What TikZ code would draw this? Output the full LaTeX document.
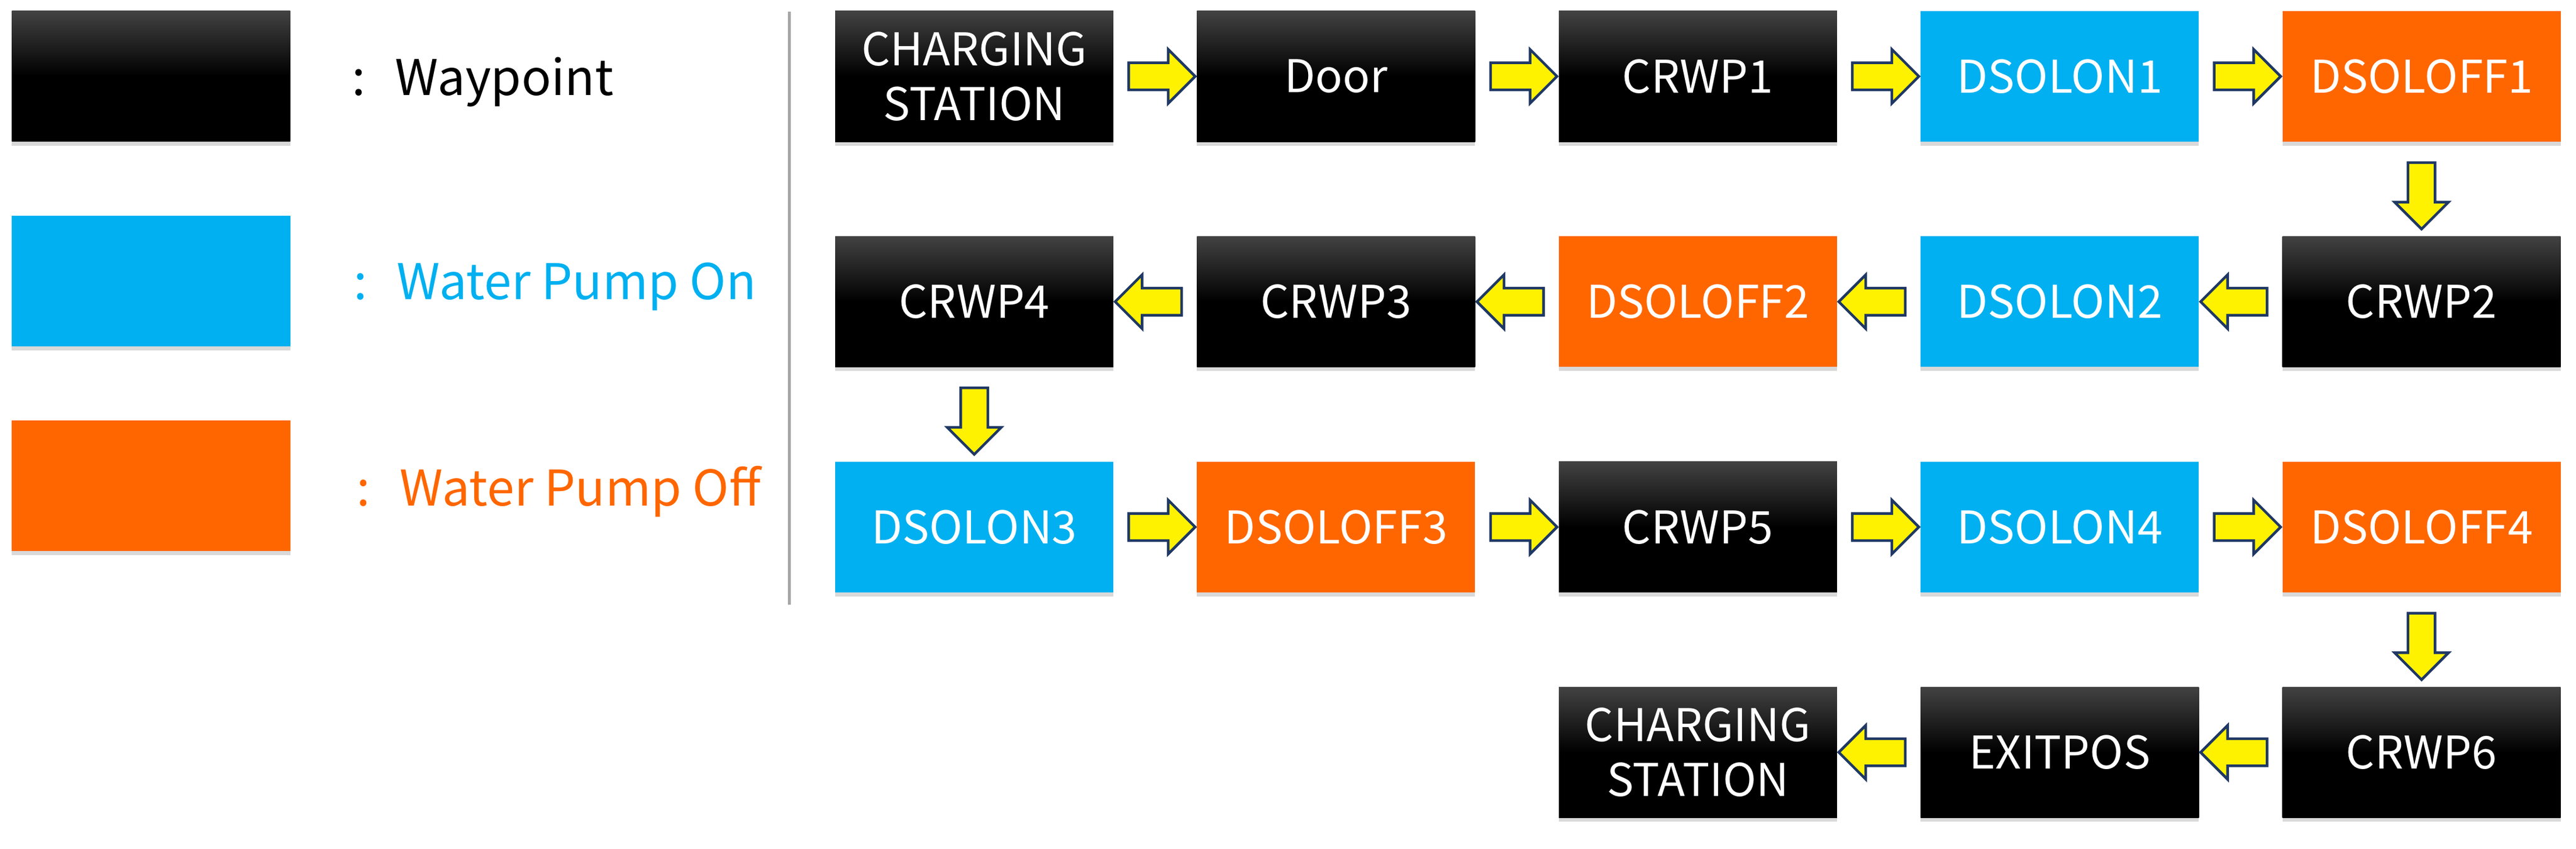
\documentclass[tikz,border=0pt]{standalone}
\usepackage{fontspec}
\setmainfont{Noto Sans CJK KR}
\usetikzlibrary{positioning,shapes.arrows,shadows}
\definecolor{pumpon}{HTML}{00B0F0}
\definecolor{pumpoff}{HTML}{FF6600}
\definecolor{flowedge}{HTML}{1F3864}
\definecolor{sepgray}{HTML}{A6A6A6}
\begin{document}
\begin{tikzpicture}[box/.style={rectangle,minimum width=4.77cm,minimum height=2.24cm,inner sep=0pt,align=center,text=white,font=\fontsize{22}{26.7}\selectfont,drop shadow={shadow xshift=0cm,shadow yshift=-0.07cm,opacity=0.3},node distance=1.42cm},
    wpbox/.style={box,top color=black!74,bottom color=black,middle color=black},
    onbox/.style={box,fill=pumpon},
    offbox/.style={box,fill=pumpoff},
    flow/.style={single arrow,draw=flowedge,fill=yellow,line width=0.045cm,minimum height=1.14cm,text height=0.21cm,text depth=0.21cm,single arrow head extend=0.23cm,inner sep=0pt,sloped,allow upside down},
    legend/.style={anchor=west,inner sep=0pt,text depth=0pt,font=\fontsize{24}{28}\selectfont}]
        \useasboundingbox (0,0) rectangle (44.17,-14.55);
        % legend
        \node[wpbox] (lgway) at (2.59,-1.305) {};
        \node[onbox,below=1.26cm of lgway] (lgon) {};
        \node[offbox,below=1.26cm of lgon] (lgoff) {};
        \node[legend,right=1.05cm of lgway] (lgwaytxt) {\makebox[0.74cm][l]{:}Waypoint};
        \node[legend,text=pumpon,right=1.08cm of lgon] (lgontxt) {\makebox[0.74cm][l]{:}Water Pump On};
        \node[legend,text=pumpoff,right=1.13cm of lgoff] (lgofftxt) {\makebox[0.74cm][l]{:}Water Pump Off};
        \draw[sepgray,line width=0.05cm] (13.53,-0.20) -- (13.53,-10.37);
        % row 1
        \node[wpbox] (cs1) at (16.705,-1.31) {CHARGING\\STATION};
        \node[wpbox,right=of cs1] (door) {Door};
        \node[wpbox,right=of door] (crwp1) {CRWP1};
        \node[onbox,right=of crwp1] (dsolon1) {DSOLON1};
        \node[offbox,right=of dsolon1] (dsoloff1) {DSOLOFF1};
        % row 2
        \node[wpbox,below=1.61cm of dsoloff1] (crwp2) {CRWP2};
        \node[onbox,left=of crwp2] (dsolon2) {DSOLON2};
        \node[offbox,left=of dsolon2] (dsoloff2) {DSOLOFF2};
        \node[wpbox,left=of dsoloff2] (crwp3) {CRWP3};
        \node[wpbox,left=of crwp3] (crwp4) {CRWP4};
        % row 3
        \node[onbox,below=1.61cm of crwp4] (dsolon3) {DSOLON3};
        \node[offbox,right=of dsolon3] (dsoloff3) {DSOLOFF3};
        \node[wpbox,right=of dsoloff3] (crwp5) {CRWP5};
        \node[onbox,right=of crwp5] (dsolon4) {DSOLON4};
        \node[offbox,right=of dsolon4] (dsoloff4) {DSOLOFF4};
        % row 4
        \node[wpbox,below=1.61cm of dsoloff4] (crwp6) {CRWP6};
        \node[wpbox,left=of crwp6] (exitpos) {EXITPOS};
        \node[wpbox,left=of exitpos] (cs2) {CHARGING\\STATION};
        \path (cs1) -- node[flow] {} (door) -- node[flow] {} (crwp1) -- node[flow] {} (dsolon1) -- node[flow] {} (dsoloff1)
            -- node[flow] {} (crwp2) -- node[flow] {} (dsolon2) -- node[flow] {} (dsoloff2) -- node[flow] {} (crwp3) -- node[flow] {} (crwp4)
            -- node[flow] {} (dsolon3) -- node[flow] {} (dsoloff3) -- node[flow] {} (crwp5) -- node[flow] {} (dsolon4) -- node[flow] {} (dsoloff4)
            -- node[flow] {} (crwp6) -- node[flow] {} (exitpos) -- node[flow] {} (cs2);
    \end{tikzpicture}
\end{document}
